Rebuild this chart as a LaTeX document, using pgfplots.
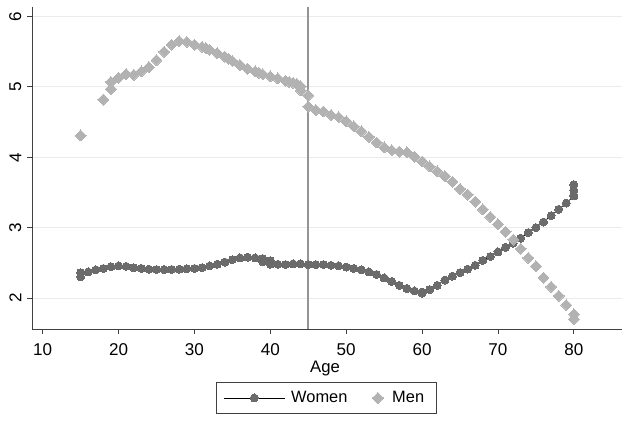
\documentclass[border=0pt]{standalone}
\usepackage{pgfplots}
\pgfplotsset{compat=1.18}
\usepackage{fontspec}
\setmainfont{Liberation Sans}
\definecolor{womc}{gray}{0.42}
\definecolor{menc}{gray}{0.70}
\definecolor{vlc}{gray}{0.58}
\definecolor{gridc}{gray}{0.92}
\definecolor{axc}{gray}{0.25}
\begin{document}
\fontsize{12}{14}\selectfont
\begin{tikzpicture}
\begin{axis}[
  scale only axis, width=442pt, height=241.7pt,
  xmin=8.63, xmax=86.3, ymin=1.56, ymax=6.14,
  axis x line*=bottom, axis y line*=left,
  axis line style={color=axc, line width=0.6pt},
  every tick/.style={color=axc, line width=0.6pt},
  xtick={10,20,...,80}, ytick={2,3,4,5,6},
  tick align=outside, major tick length=4pt,
  ymajorgrids, grid style={color=gridc, line width=0.7pt},
  /pgf/number format/assume math mode=true,
  ticklabel style={font=\fontsize{12.8}{14}\selectfont},
  xticklabel style={yshift=-2.5pt},
  yticklabel style={rotate=90, anchor=south},
  xlabel={Age},
  xlabel style={at={(axis description cs:0.4966,-0.122)}, anchor=center, font=\fontsize{12.5}{14}\selectfont},
  legend style={at={(0.4995,-0.2141)}, anchor=center, draw=axc, line width=0.6pt,
    inner xsep=5pt, inner ysep=4.5pt,
    legend columns=2, font=\fontsize{12.3}{14}\selectfont,
    nodes={inner xsep=4.5pt},
    /tikz/every even column/.append style={column sep=14pt}},
  legend cell align=left,
]
\addplot[vlc, line width=1.3pt, forget plot] coordinates {(45,1.56) (45,6.14)};
\addplot[black, line width=0.5pt, mark=*, mark size=3pt,
  mark options={fill=womc, draw=womc, line width=0pt},
  legend image code/.code={\draw[mark repeat=2,mark phase=2] plot coordinates {(0pt,0pt) (23pt,0pt) (46pt,0pt)};}]
  table {
x y
15 2.30
15 2.36
16 2.37
17 2.40
18 2.42
19 2.445
20 2.455
21 2.45
22 2.43
23 2.42
24 2.41
25 2.405
26 2.405
27 2.405
28 2.41
29 2.415
30 2.42
31 2.43
32 2.455
33 2.48
34 2.51
35 2.545
36 2.57
37 2.58
38 2.57
39 2.56
39 2.515
40 2.53
40 2.48
41 2.48
42 2.475
43 2.485
44 2.485
45 2.475
46 2.475
47 2.475
48 2.465
49 2.455
50 2.44
51 2.42
52 2.40
53 2.37
54 2.335
55 2.285
56 2.235
57 2.18
58 2.135
59 2.10
60 2.085
60 2.07
61 2.12
62 2.18
63 2.255
64 2.31
65 2.36
66 2.41
67 2.465
68 2.535
69 2.59
70 2.655
71 2.72
72 2.78
73 2.85
74 2.93
75 3.00
76 3.08
77 3.17
78 3.26
79 3.35
80 3.45
80 3.53
80 3.61
};
\addlegendentry{Women}
\addplot[only marks, mark=square*, mark size=2.9pt,
  mark options={rotate=45, fill=menc, draw=menc, line width=0pt},
  legend image code/.code={\path (0pt,0pt) (10pt,0pt); \draw plot coordinates {(4pt,0pt)};}]
  table {
x y
15 4.31
18 4.82
19 4.97
19 5.07
20 5.13
21 5.18
22 5.17
23 5.22
24 5.28
25 5.38
26 5.50
27 5.60
28 5.65
29 5.64
30 5.60
31 5.57
31.5 5.55
32 5.53
33 5.48
34 5.43
34.5 5.40
35 5.37
36 5.31
37 5.26
38 5.22
38.5 5.20
39 5.18
40 5.15
41 5.12
42 5.09
42.5 5.07
43 5.06
43.5 5.04
44 5.01
44 4.95
45 4.88
45 4.72
46 4.67
47 4.65
48 4.60
49 4.57
50 4.51
51 4.44
52 4.37
53 4.29
54 4.21
55 4.14
56 4.10
57 4.08
58 4.07
59 4.01
60 3.94
61 3.87
62 3.80
63 3.73
64 3.65
65 3.55
66 3.47
67 3.37
68 3.26
69 3.15
70 3.05
71 2.94
72 2.83
73 2.70
74 2.57
75 2.45
76 2.29
77 2.16
78 2.03
79 1.90
80 1.77
80 1.70
};
\addlegendentry{Men}
\end{axis}
\path[use as bounding box] (-24.2pt,-69pt) rectangle (447.5pt,246.7pt);
\end{tikzpicture}
\end{document}
